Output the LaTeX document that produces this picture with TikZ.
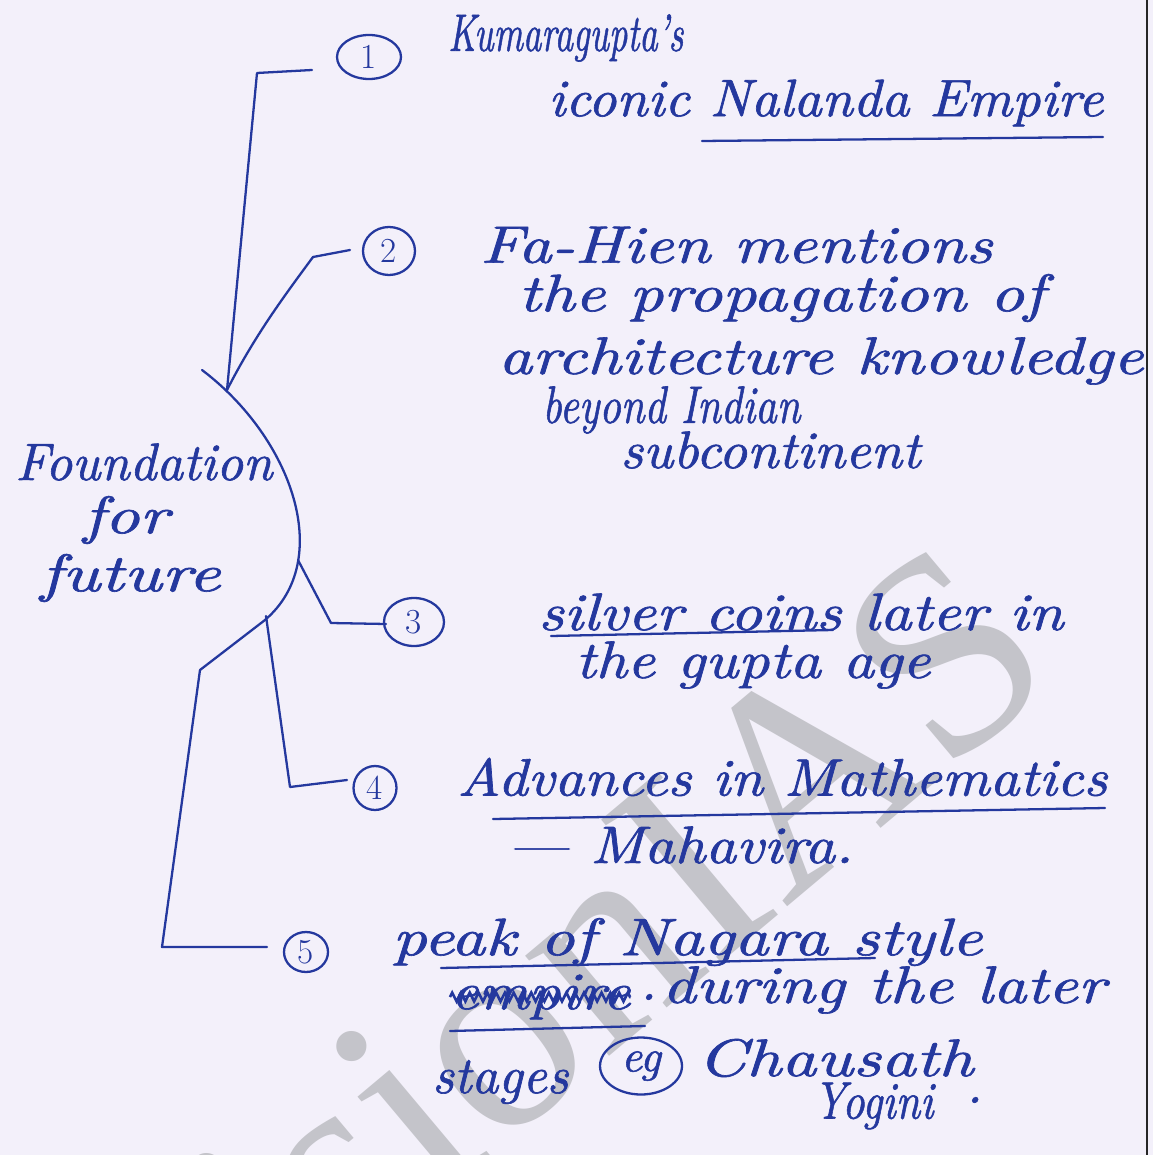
\documentclass[tikz,border=0pt]{standalone}
\usepackage{fontspec}
\usepackage{graphicx}
\usetikzlibrary{shapes.geometric,decorations.pathmorphing}
\newfontfamily\wmfont{Liberation Serif}
\newfontfamily\hand[FakeBold=1.2]{lmroman10-italic.otf}
\newdimen\pxu \pxu=0.02cm
% squeeze or stretch a line of handwriting to a given width (in px units)
\newcommand{\fitw}[2]{\resizebox{#1\pxu}{\height}{#2}}
\definecolor{paper}{RGB}{243,240,250}
\definecolor{ink}{RGB}{36,56,158}
\definecolor{wmgray}{RGB}{196,196,202}

\begin{document}
\begin{tikzpicture}[x=0.02cm,y=-0.02cm,
  pen/.style={draw=ink,line width=1.3pt,line cap=round,line join=round},
  hw/.style={text=ink,font=\hand\fontsize{30}{36}\selectfont,anchor=west,inner sep=0pt},
  numring/.style={ellipse,draw=ink,line width=1.3pt,inner sep=0pt,text=ink,font=\fontsize{20}{20}\selectfont},
]
\useasboundingbox (0,0) rectangle (1153,1155);
\fill[paper] (0,0) rectangle (1153,1155);
\clip (0,0) rectangle (1153,1155);

% watermark
\node[rotate=40,anchor=base west,inner sep=0pt,text=wmgray,
      font=\wmfont\fontsize{162}{170}\selectfont] (wm) at (180,1417) {visionIAS};

% page edge
\draw[line width=1.6pt,black!85] (1147,0) -- (1147,1155);

% ---- central topic
\node[hw] (f1) at (15,462)  {\fitw{257}{Foundation}};
\node[hw] (f2) at (83,520)  {\fitw{85}{for}};
\node[hw] (f3) at (40,578)  {\fitw{180}{future}};

% bracket-like curve around the central topic
\coordinate (arcA) at (202,370);
\coordinate (meet) at (227,390);
\coordinate (arcB) at (265,620);
\coordinate (arcC) at (200,670);
\draw[pen] (arcA) .. controls (292,438) and (335,560) .. (arcB) -- (arcC);

% ---- numbered rings
\node[numring,minimum width=1.28cm,minimum height=0.88cm] (c1) at (369,57)  {1};
\node[numring,minimum width=1.04cm,minimum height=0.96cm] (c2) at (389,251) {2};
\node[numring,minimum width=1.20cm,minimum height=0.96cm] (c3) at (414,622) {3};
\node[numring,minimum width=0.86cm,minimum height=0.88cm] (c4) at (375,788) {4};
\node[numring,minimum width=0.88cm,minimum height=0.80cm] (c5) at (306,952) {5};
\node[numring,minimum width=1.64cm,minimum height=1.14cm,font=\hand\fontsize{26}{26}\selectfont] (ceg) at (641,1066) {eg};

% ---- connectors
\coordinate (e1) at (312,70);
\coordinate (e2) at (350,250);
\coordinate (s3) at (298,560);
\coordinate (e3) at (386,624);
\coordinate (s4) at (266,616);
\coordinate (e4) at (347,780);
\coordinate (e5) at (267,947);
\draw[pen] (e1) -- (257,73) -- (meet);
\draw[pen] (e2) -- (313,257) .. controls (285,295) and (255,335) .. (meet);
\draw[pen] (s3) -- (331,623) -- (e3);
\draw[pen] (s4) -- (290,787) -- (e4);
\draw[pen] (arcC) -- (162,947) -- (e5);

% ---- branch 1
\node[hw] (t1a) at (448,38)  {\fitw{235}{Kumaragupta’s}};
\node[hw] (t1b) at (548,103) {\fitw{555}{iconic Nalanda Empire}};
\coordinate (u1a) at (702,141);
\coordinate (u1b) at (1103,137);
\draw[pen] (u1a) -- (u1b);

% ---- branch 2
\node[hw] (t2a) at (480,245) {\fitw{512}{Fa-Hien mentions}};
\node[hw] (t2b) at (518,298) {\fitw{526}{the propagation of}};
\node[hw] (t2c) at (498,361) {\fitw{645}{architecture knowledge}};
\node[hw] (t2d) at (542,410) {\fitw{258}{beyond Indian}};
\node[hw] (t2e) at (620,450) {\fitw{300}{subcontinent}};

% ---- branch 3
\node[hw] (t3a) at (538,612) {\fitw{525}{silver coins later in}};
\node[hw] (t3b) at (575,665) {\fitw{355}{the gupta age}};
\coordinate (u3a) at (551,636);
\coordinate (u3b) at (833,630);
\draw[pen] (u3a) -- (u3b);

% ---- branch 4
\node[hw] (t4a) at (457,777) {\fitw{650}{Advances in Mathematics}};
\node[hw] (t4b) at (507,845) {\fitw{346}{— Mahavira.}};
\coordinate (u4a) at (493,819);
\coordinate (u4b) at (1105,808);
\draw[pen] (u4a) -- (u4b);

% ---- branch 5
\node[hw] (t5a) at (392,942) {\fitw{590}{peak of Nagara style}};
\coordinate (u5a) at (441,968);
\coordinate (u5b) at (875,958);
\draw[pen] (u5a) -- (u5b);
\node[hw] (strk) at (450,997) {\fitw{180}{empire}};
\draw[ink,line width=1.5pt,decorate,decoration={zigzag,segment length=5pt,amplitude=2.5pt}]
  (strk.west) -- (strk.east);
\node[hw] (dot5) at (640,997) {.};
\node[hw] (t5b) at (662,990) {\fitw{443}{during the later}};
\coordinate (u5c) at (450,1031);
\coordinate (u5d) at (645,1026);
\draw[pen] (u5c) -- (u5d);
\node[hw] (t5c) at (432,1082) {\fitw{136}{stages}};
\node[hw] (t5d) at (697,1058) {\fitw{276}{Chausath}};
\node[hw] (t5e) at (813,1106) {\fitw{120}{Yogini}};
\node[hw] (dot6) at (966,1100) {.};
\end{tikzpicture}
\end{document}
